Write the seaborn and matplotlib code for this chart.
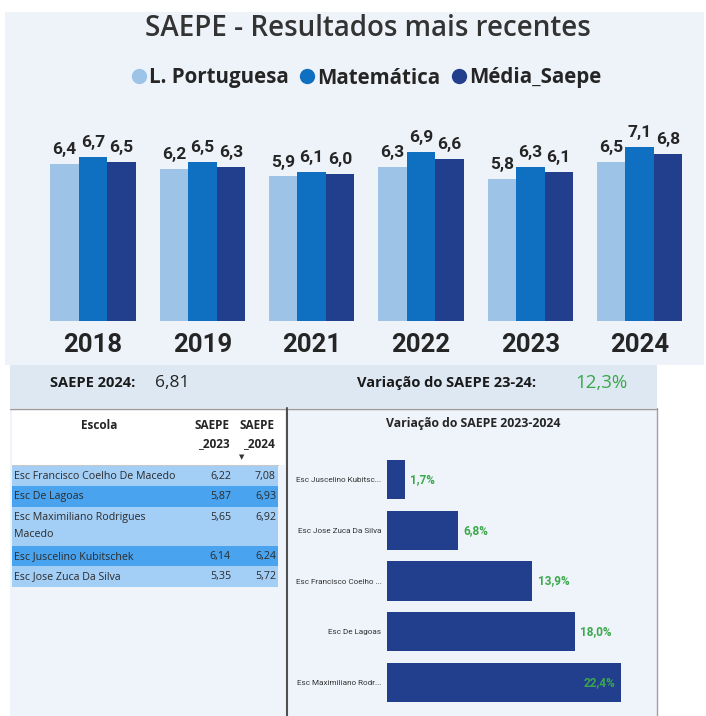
import numpy as np
import pandas as pd
import seaborn as sns
import matplotlib
matplotlib.use("Agg")
import matplotlib.pyplot as plt
from matplotlib.patches import Rectangle
from matplotlib.lines import Line2D

# ---------------- data ----------------
years = ["2018", "2019", "2021", "2022", "2023", "2024"]
portugues = [6.4, 6.2, 5.9, 6.3, 5.8, 6.5]
matematica = [6.7, 6.5, 6.1, 6.9, 6.3, 7.1]
media_saepe = [6.5, 6.3, 6.0, 6.6, 6.1, 6.8]
series_names = ["L. Portuguesa", "Matemática", "Média_Saepe"]
series_colors = ["#9dc3e6", "#0f6fc0", "#213f8d"]

escolas = ["Esc Francisco Coelho De Macedo", "Esc De Lagoas",
           "Esc Maximiliano Rodrigues\nMacedo", "Esc Juscelino Kubitschek",
           "Esc Jose Zuca Da Silva"]
saepe_2023 = [6.22, 5.87, 5.65, 6.14, 5.35]
saepe_2024 = [7.08, 6.93, 6.92, 6.24, 5.72]

var_escolas = ["Esc Juscelino Kubitsc...", "Esc Jose Zuca Da Silva",
               "Esc Francisco Coelho ...", "Esc De Lagoas", "Esc Maximiliano Rodr..."]
var_pct = [1.7, 6.8, 13.9, 18.0, 22.4]

saepe_2024_total = 6.81
variacao_total = 12.3

# ---------------- setup ----------------
sns.set_theme(style="white")
plt.rcParams["font.family"] = ["Open Sans", "DejaVu Sans"]
NARROW = ["Liberation Sans Narrow", "Roboto", "DejaVu Sans"]

W, H = 706, 716
fig = plt.figure(figsize=(W / 100, H / 100), dpi=100)
fig.patch.set_facecolor("white")


def px_axes(x0, y0, x1, y1):
    return fig.add_axes([x0 / W, 1 - y1 / H, (x1 - x0) / W, (y1 - y0) / H])


def frect(x0, y0, x1, y1, **kw):
    fig.patches.append(Rectangle((x0 / W, 1 - y1 / H), (x1 - x0) / W, (y1 - y0) / H,
                                 transform=fig.transFigure, zorder=-10, **kw))


def fline(x0, y0, x1, y1, **kw):
    fig.lines.append(Line2D([x0 / W, x1 / W], [1 - y0 / H, 1 - y1 / H],
                            transform=fig.transFigure, zorder=-5, **kw))


def ftext(x, y, s, **kw):
    return fig.text(x / W, 1 - y / H, s, **kw)


def br(v, nd=1):
    return f"{v:.{nd}f}".replace(".", ",")


# ---------------- backgrounds ----------------
frect(5, 12, 704, 365, color="#eef3fa", lw=0)
frect(10, 365, 657, 408, color="#dde8f3", lw=0)
frect(10, 408, 287, 716, color="#eff4fb", lw=0)
frect(12, 409, 285, 465, color="white", lw=0)
frect(288, 408, 657, 716, color="#eff4fb", lw=0)

# ---------------- top: title + legend ----------------
ftext(368, 28, "SAEPE - Resultados mais recentes", ha="center", va="center",
      fontsize=20, fontweight="semibold", color="#333333")

handles = [Line2D([], [], marker="o", ls="", markersize=10, color=c) for c in series_colors]
fig.legend(handles, series_names, loc="center", bbox_to_anchor=(364 / W, 1 - 78 / H),
           ncol=3, frameon=False, handletextpad=-0.1, columnspacing=0.3,
           handlelength=1.2, prop={"size": 14.8, "weight": "bold"}, labelcolor="#252525")

# ---------------- top: grouped bars ----------------
df = pd.DataFrame({"ano": years * 3,
                   "serie": [series_names[0]] * 6 + [series_names[1]] * 6 + [series_names[2]] * 6,
                   "valor": portugues + matematica + media_saepe})
ax1 = px_axes(38.3, 125, 694.3, 321)
sns.barplot(data=df, x="ano", y="valor", hue="serie", palette=series_colors,
            width=0.78, saturation=1, errorbar=None, legend=False, linewidth=0, ax=ax1)
ax1.set_xlim(-0.5, 5.5)
ax1.set_ylim(0, 8)
ax1.set_facecolor("none")
for s in ax1.spines.values():
    s.set_visible(False)
ax1.set_yticks([])
ax1.set_xlabel("")
ax1.set_ylabel("")
ax1.tick_params(axis="x", length=0, pad=9)
for lab in ax1.get_xticklabels():
    lab.set_fontsize(18.5)
    lab.set_fontweight("bold")
    lab.set_color("#252525")
    lab.set_family(NARROW)
for cont, vals in zip(ax1.containers, [portugues, matematica, media_saepe]):
    ax1.bar_label(cont, labels=[br(v) for v in vals], padding=5, fontsize=12.5,
                  fontweight="bold", color="#252525", family=NARROW)

# ---------------- strip ----------------
ftext(50, 383, "SAEPE 2024:", ha="left", va="center", fontsize=10.5,
      fontweight="bold", color="#1a1a1a")
ftext(155, 383, br(saepe_2024_total, 2), ha="left", va="center", fontsize=12.5,
      color="#252525")
ftext(357, 383, "Variação do SAEPE 23-24:", ha="left", va="center", fontsize=10.5,
      fontweight="bold", color="#1a1a1a")
ftext(575, 383, br(variacao_total) + "%", ha="left", va="center", fontsize=13.5,
      color="#3aa84a")

# ---------------- table ----------------
fline(10, 408.5, 287, 408.5, color="#9a9a9a", lw=1)
fline(287, 408, 287, 716, color="#505050", lw=1.5)
ftext(99, 426, "Escola", ha="center", va="center", fontsize=8.5, fontweight="bold",
      color="#252525")
for xr, yr in [(230, "_2023"), (275, "_2024")]:
    ftext(xr, 426, "SAEPE", ha="right", va="center", fontsize=8.5, fontweight="bold",
          color="#252525")
    ftext(xr, 444, yr, ha="right", va="center", fontsize=8.5, fontweight="bold",
          color="#252525")
ftext(242, 457, "▼", ha="center", va="center", fontsize=5, color="#333333",
      family="DejaVu Sans")
fline(12, 465, 278, 465, color="#c9c9c9", lw=0.8)

row_colors = ["#a3cef6", "#4aa3ee"]
y = 465.5
for i, (nome, v23, v24) in enumerate(zip(escolas, saepe_2023, saepe_2024)):
    partes = nome.split("\n")
    nlines = len(partes)
    h = 20.5 if nlines == 1 else 39
    frect(12, y, 278, y + h, color=row_colors[i % 2], lw=0)
    for k, parte in enumerate(partes):
        ftext(14, y + 11 + k * 17, parte, ha="left", va="center", fontsize=7.7,
              color="#2b2b2b")
    ftext(231, y + 11, br(v23, 2), ha="right", va="center", fontsize=7.7, color="#2b2b2b")
    ftext(276, y + 11, br(v24, 2), ha="right", va="center", fontsize=7.7, color="#2b2b2b")
    y += h

# ---------------- right chart ----------------
fline(288, 408.5, 657, 408.5, color="#9a9a9a", lw=1)
fline(657, 408, 657, 716, color="#a0a0a0", lw=1)
ftext(473, 423, "Variação do SAEPE 2023-2024", ha="center", va="center",
      fontsize=8.8, fontweight="bold", color="#252525")

ax2 = px_axes(387, 454, 648, 708)
dfv = pd.DataFrame({"escola": var_escolas, "pct": var_pct})
sns.barplot(data=dfv, x="pct", y="escola", color="#213f8d", saturation=1,
            width=0.77, errorbar=None, orient="h", linewidth=0, ax=ax2)
ax2.set_xlim(0, 25)
ax2.set_ylim(4.5, -0.5)
ax2.set_facecolor("none")
for s in ax2.spines.values():
    s.set_visible(False)
ax2.set_xticks([])
ax2.set_xlabel("")
ax2.set_ylabel("")
ax2.tick_params(axis="y", length=0, pad=4)
for lab in ax2.get_yticklabels():
    lab.set_fontsize(5.9)
    lab.set_color("#333333")
    lab.set_family(NARROW)
vmax = max(var_pct)
for i, v in enumerate(var_pct):
    if v == vmax:
        ax2.annotate(br(v) + "%", (v, i), xytext=(-4, 0), textcoords="offset points",
                     ha="right", va="center", fontsize=8.5, fontweight="bold",
                     color="#3aa84a", family=NARROW)
    else:
        ax2.annotate(br(v) + "%", (v, i), xytext=(4, 0), textcoords="offset points",
                     ha="left", va="center", fontsize=8.5, fontweight="bold",
                     color="#3aa84a", family=NARROW)

fig.savefig("out.png", dpi=100, facecolor="white")
